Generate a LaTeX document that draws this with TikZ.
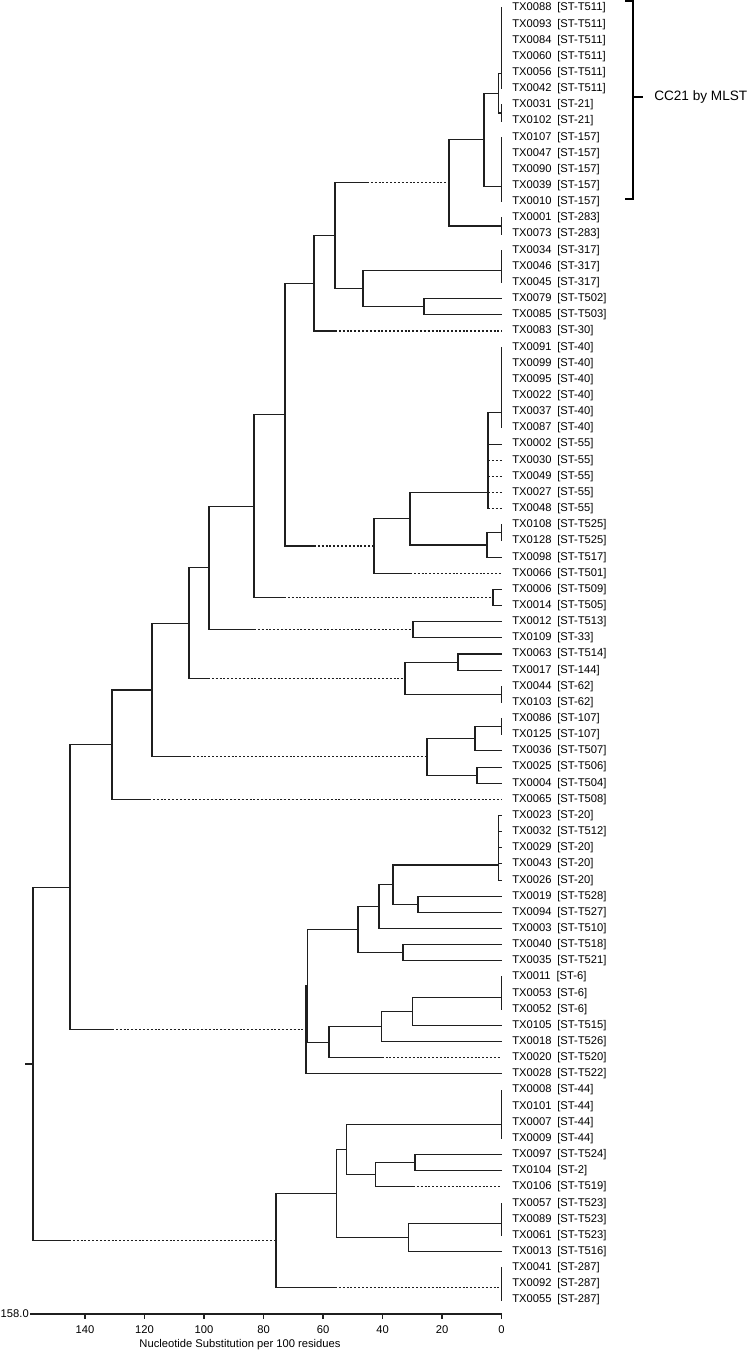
\documentclass[tikz,border=0pt]{standalone}
\usepackage{fontspec}
\setmainfont{Liberation Sans}
\usetikzlibrary{calc}
\newcommand{\jn}[4]{\coordinate (mid#1) at ($(#3)!0.5!(#4)$);\coordinate (#1) at (#2,0 |- mid#1);}
\newcommand{\ed}[2]{\draw[br] (#1) |- (#2);}
\newcommand{\edd}[3]{\draw[br] (#1) |- (#3,0 |- #2);\draw[dotbr] (#3,0 |- #2) -- (#2);}
\begin{document}
\begin{tikzpicture}[x=0.75pt,y=-0.75pt,
  br/.style={line width=0.8pt,draw=black!88,line cap=rect},
  dotbr/.style={line width=0.8pt,draw=black!88,dash pattern=on 1.5pt off 1.4pt},
  leaf/.style={anchor=west,inner sep=0pt,font=\fontsize{8.4pt}{10pt}\selectfont},
  ticklab/.style={inner sep=0pt,font=\fontsize{8.4pt}{10pt}\selectfont},
  brk/.style={line width=1.5pt,draw=black}]
\useasboundingbox (0,0) rectangle (750,1352);
% leaves
\foreach \a/\b [count=\i] in {TX0088/T511,TX0093/T511,TX0084/T511,TX0060/T511,TX0056/T511,TX0042/T511,TX0031/21,TX0102/21,TX0107/157,TX0047/157,TX0090/157,TX0039/157,TX0010/157,TX0001/283,TX0073/283,TX0034/317,TX0046/317,TX0045/317,TX0079/T502,TX0085/T503,TX0083/30,TX0091/40,TX0099/40,TX0095/40,TX0022/40,TX0037/40,TX0087/40,TX0002/55,TX0030/55,TX0049/55,TX0027/55,TX0048/55,TX0108/T525,TX0128/T525,TX0098/T517,TX0066/T501,TX0006/T509,TX0014/T505,TX0012/T513,TX0109/33,TX0063/T514,TX0017/144,TX0044/62,TX0103/62,TX0086/107,TX0125/107,TX0036/T507,TX0025/T506,TX0004/T504,TX0065/T508,TX0023/20,TX0032/T512,TX0029/20,TX0043/20,TX0026/20,TX0019/T528,TX0094/T527,TX0003/T510,TX0040/T518,TX0035/T521,TX0011/6,TX0053/6,TX0052/6,TX0105/T515,TX0018/T526,TX0020/T520,TX0028/T522,TX0008/44,TX0101/44,TX0007/44,TX0009/44,TX0097/T524,TX0104/2,TX0106/T519,TX0057/T523,TX0089/T523,TX0061/T523,TX0013/T516,TX0041/287,TX0092/287,TX0055/287}{
  \coordinate (t\i) at (501.5,{8+(\i-1)*16.15});
  \node[leaf] (L\i) at (512,{8+(\i-1)*16.15}) {\a\hspace{4.4pt}[ST-\b]};
}
% ---- upper clade ----
\jn{a1}{501.5}{t1}{t2}\jn{a2}{501.5}{a1}{t3}\jn{a3}{501.5}{a2}{t4}\jn{a4}{501.5}{a3}{t5}\jn{A}{501.5}{a4}{t6}
\foreach \k in {1,...,6}{\ed{A}{t\k}}
\jn{B}{501.5}{t7}{t8}\ed{B}{t7}\ed{B}{t8}
\jn{XA}{498.3}{A}{B}\ed{XA}{A}\ed{XA}{B}
\jn{c1}{501.5}{t9}{t10}\jn{c2}{501.5}{c1}{t11}\jn{c3}{501.5}{c2}{t12}\jn{C}{501.5}{c3}{t13}
\foreach \k in {9,...,13}{\ed{C}{t\k}}
\jn{D}{484}{XA}{C}\ed{D}{XA}\ed{D}{C}
\jn{F}{501.5}{t14}{t15}\ed{F}{t14}\ed{F}{t15}
\jn{E}{449}{D}{F}\ed{E}{D}\ed{E}{F}
\jn{i1}{501.5}{t16}{t17}\jn{I}{501.5}{i1}{t18}
\foreach \k in {16,17,18}{\ed{I}{t\k}}
\jn{J}{424}{t19}{t20}\ed{J}{t19}\ed{J}{t20}
\jn{H}{363}{I}{J}\ed{H}{I}\ed{H}{J}
\jn{G}{335}{E}{H}\edd{G}{E}{367}\ed{G}{H}
\jn{K}{314}{G}{t21}\ed{K}{G}\edd{K}{t21}{335}
\jn{s1}{501.5}{t22}{t23}\jn{s2}{501.5}{s1}{t24}\jn{s3}{501.5}{s2}{t25}\jn{s4}{501.5}{s3}{t26}\jn{S}{501.5}{s4}{t27}
\foreach \k in {22,...,27}{\ed{S}{t\k}}
\jn{p1}{488}{S}{t28}\jn{p2}{488}{p1}{t29}\jn{p3}{488}{p2}{t30}\jn{p4}{488}{p3}{t31}\jn{P}{488}{p4}{t32}
\ed{P}{S}\ed{P}{t28}
\foreach \k in {29,...,32}{\edd{P}{t\k}{488}}
\jn{R}{501.5}{t33}{t34}\ed{R}{t33}\ed{R}{t34}
\jn{Q}{487}{R}{t35}\ed{Q}{R}\ed{Q}{t35}
\jn{O}{410}{P}{Q}\ed{O}{P}\ed{O}{Q}
\jn{N}{374}{O}{t36}\ed{N}{O}\edd{N}{t36}{410}
\jn{M}{285}{K}{N}\ed{M}{K}\edd{M}{N}{314}
\jn{V}{493}{t37}{t38}\ed{V}{t37}\ed{V}{t38}
\jn{U}{254}{M}{V}\ed{U}{M}\edd{U}{V}{284}
\jn{X}{413}{t39}{t40}\ed{X}{t39}\ed{X}{t40}
\jn{W}{209}{U}{X}\ed{W}{U}\edd{W}{X}{254}
\jn{Z1}{458}{t41}{t42}\ed{Z1}{t41}\ed{Z1}{t42}
\jn{Z2}{501.5}{t43}{t44}\ed{Z2}{t43}\ed{Z2}{t44}
\jn{Z}{405}{Z1}{Z2}\ed{Z}{Z1}\ed{Z}{Z2}
\jn{Y}{189}{W}{Z}\ed{Y}{W}\edd{Y}{Z}{208}
\jn{AE}{501.5}{t45}{t46}\ed{AE}{t45}\ed{AE}{t46}
\jn{AC}{475}{AE}{t47}\ed{AC}{AE}\ed{AC}{t47}
\jn{AD}{477}{t48}{t49}\ed{AD}{t48}\ed{AD}{t49}
\jn{AB}{427}{AC}{AD}\ed{AB}{AC}\ed{AB}{AD}
\jn{AA}{152}{Y}{AB}\ed{AA}{Y}\edd{AA}{AB}{189}
\jn{AF}{112}{AA}{t50}\ed{AF}{AA}\edd{AF}{t50}{149}
% ---- middle clade ----
\jn{g1}{498.5}{t51}{t52}\jn{g2}{498.5}{g1}{t53}\jn{g3}{498.5}{g2}{t54}\jn{GA}{498.5}{g3}{t55}
\foreach \k in {51,...,55}{\ed{GA}{t\k}}
\jn{AO}{418}{t56}{t57}\ed{AO}{t56}\ed{AO}{t57}
\jn{AP}{393}{GA}{AO}\ed{AP}{GA}\ed{AP}{AO}
\jn{AM}{379}{AP}{t58}\ed{AM}{AP}\ed{AM}{t58}
\jn{AQ}{403}{t59}{t60}\ed{AQ}{t59}\ed{AQ}{t60}
\jn{AJ}{358}{AM}{AQ}\ed{AJ}{AM}\ed{AJ}{AQ}
\jn{r1}{501.5}{t61}{t62}\jn{AR0}{501.5}{r1}{t63}
\foreach \k in {61,62,63}{\ed{AR0}{t\k}}
\jn{AR}{412.7}{AR0}{t64}\ed{AR}{AR0}\ed{AR}{t64}
\jn{AS}{381.7}{AR}{t65}\ed{AS}{AR}\ed{AS}{t65}
\jn{AT}{329}{AS}{t66}\ed{AT}{AS}\edd{AT}{t66}{381.7}
\jn{AK}{307.5}{AJ}{AT}\ed{AK}{AJ}\ed{AK}{AT}
\jn{AH}{306}{AK}{t67}\ed{AH}{AK}\ed{AH}{t67}
\jn{AG}{70}{AF}{AH}\ed{AG}{AF}\edd{AG}{AH}{112}
% ---- lower clade ----
\jn{f1}{501.5}{t68}{t69}\jn{f2}{501.5}{f1}{t70}\jn{BF}{501.5}{f2}{t71}
\foreach \k in {68,...,71}{\ed{BF}{t\k}}
\jn{AU}{415}{t72}{t73}\ed{AU}{t72}\ed{AU}{t73}
\jn{BA}{375.7}{AU}{t74}\ed{BA}{AU}\edd{BA}{t74}{413}
\jn{BB}{346.7}{BF}{BA}\ed{BB}{BF}\ed{BB}{BA}
\jn{h1}{501.5}{t75}{t76}\jn{BG}{501.5}{h1}{t77}
\foreach \k in {75,76,77}{\ed{BG}{t\k}}
\jn{BC}{408.3}{BG}{t78}\ed{BC}{BG}\ed{BC}{t78}
\jn{BD}{336.7}{BB}{BC}\ed{BD}{BB}\ed{BD}{BC}
\jn{e1}{501.5}{t79}{t80}\jn{BE}{501.5}{e1}{t81}
\foreach \k in {79,80,81}{\ed{BE}{t\k}}
\jn{AI}{276}{BD}{BE}\ed{AI}{BD}\edd{AI}{BE}{335}
% ---- root ----
\jn{ROOT}{33}{AG}{AI}\ed{ROOT}{AG}\edd{ROOT}{AI}{69}
\coordinate (R0) at (26,0 |- ROOT);
\draw[br] (R0) -- (ROOT);
% ---- axis ----
\coordinate (ax0) at (31,1314);
\coordinate (ax1) at (501.5,1314);
\draw[br] (ax0) -- (ax1);
\foreach \v in {0,20,...,140}{
  \draw[br] ({501.5-2.975*\v},1314) -- ++(0,4.5);
  \node[ticklab] (k\v) at ({501.5-2.975*\v},1330) {\v};
}
\node[ticklab,anchor=east] (k158) at (29,1314) {158.0};
\node[ticklab] (axtitle) at (240,1345) {Nucleotide Substitution per 100 residues};
% ---- bracket ----
\coordinate (b1) at (625,1.5);
\coordinate (b2) at (633.3,1.5);
\coordinate (b3) at (633.3,199);
\coordinate (b4) at (625,199);
\coordinate (bm) at (633.3,97);
\coordinate (bt) at (643,97);
\draw[brk] (b1) -- (b2) -- (b3) -- (b4);
\draw[brk] (bm) -- (bt);
\node[anchor=west,inner sep=0pt,font=\fontsize{10.2pt}{12pt}\selectfont] (cc21) at (654,97) {CC21 by MLST};
\end{tikzpicture}
\end{document}
